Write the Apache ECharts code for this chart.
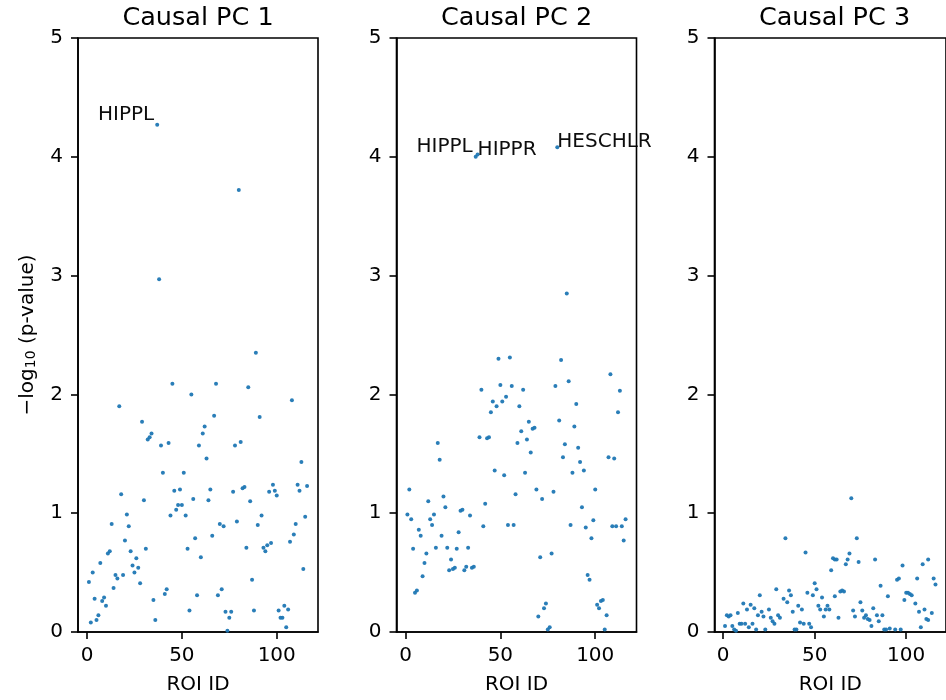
<!DOCTYPE html>
<html>
<head>
<meta charset="utf-8">
<script src="https://cdn.jsdelivr.net/npm/echarts@6/dist/echarts.min.js"></script>
<style>
  html, body { margin: 0; padding: 0; background: #fff; overflow: hidden; }
  #chart { width: 946px; height: 700px; }
</style>
</head>
<body>
<div id="chart"></div>
<script>
// ROI ids (AAL atlas, 1..116) used by the first two panels
const roiIds = [
  1,2,3,4,5,6,7,8,9,10,11,12,13,14,15,16,17,18,19,20,
  21,22,23,24,25,26,27,28,29,30,31,32,33,34,35,36,37,38,39,40,
  41,42,43,44,45,46,47,48,49,50,51,52,53,54,55,56,57,58,59,60,
  61,62,63,64,65,66,67,68,69,70,71,72,73,74,75,76,77,78,79,80,
  81,82,83,84,85,86,87,88,89,90,91,92,93,94,95,96,97,98,99,100,
  101,102,103,104,105,106,107,108,109,110,111,112,113,114,115,116
];

// -log10(p) per ROI, causal PC 1
const pc1Values = [
  0.42,0.08,0.50,0.28,0.10,0.14,0.58,0.26,0.29,0.22,
  0.66,0.68,0.91,0.37,0.48,0.45,1.90,1.16,0.48,0.77,
  0.99,0.89,0.68,0.56,0.50,0.62,0.54,0.41,1.77,1.11,
  0.70,1.62,1.64,1.67,0.27,0.10,4.27,2.97,1.57,1.34,
  0.32,0.36,1.59,0.98,2.09,1.19,1.03,1.07,1.20,1.07,
  1.34,0.98,0.70,0.18,2.00,1.12,0.79,0.31,1.57,0.63,
  1.67,1.73,1.46,1.11,1.20,0.81,1.82,2.09,0.31,0.91,
  0.36,0.89,0.17,0.01,0.12,0.17,1.18,1.57,0.93,3.72,
  1.60,1.21,1.22,0.71,2.06,1.10,0.44,0.18,2.35,0.90,
  1.81,0.98,0.71,0.68,0.73,1.18,0.75,1.24,1.19,1.15,
  0.18,0.12,0.12,0.22,0.04,0.19,0.76,1.95,0.82,0.91,
  1.24,1.19,1.43,0.53,0.97,1.23
];

// -log10(p) per ROI, causal PC 2
const pc2Values = [
  0.99,1.20,0.95,0.70,0.33,0.35,0.86,0.81,0.47,0.58,
  0.66,1.10,0.95,0.90,0.99,0.71,1.59,1.45,0.81,1.14,
  1.05,0.71,0.52,0.61,0.53,0.54,0.70,0.84,1.02,1.03,
  0.52,0.55,0.71,0.98,0.54,0.55,4.00,4.02,1.64,2.04,
  0.89,1.08,1.63,1.64,1.85,1.94,1.36,1.90,2.30,2.08,
  1.94,1.32,1.98,0.90,2.31,2.07,0.90,1.16,1.59,1.90,
  1.69,2.04,1.34,1.62,1.77,1.51,1.71,1.72,1.20,0.13,
  0.63,1.12,0.20,0.24,0.02,0.04,0.66,1.18,2.07,4.08,
  1.78,2.29,1.47,1.58,2.85,2.11,0.90,1.34,1.73,1.92,
  1.55,1.43,1.05,1.36,0.88,0.48,0.44,0.79,0.94,1.20,
  0.23,0.20,0.26,0.27,0.02,0.14,1.47,2.17,0.89,1.46,
  0.89,1.85,2.03,0.89,0.77,0.95
];

// causal PC 3: ROI ids and -log10(p)
const pc3Rois = [
  1,2,3,4,5,6,7,8,9,10,11,12,13,14,15,16,17,18,19,20,
  21,22,23,25,26,27,28,29,30,31,33,34,35,36,37,38,39,40,41,42,
  43,44,45,46,47,48,49,50,51,52,53,54,55,56,57,58,59,60,61,61,
  62,63,64,65,66,67,68,69,70,71,72,73,74,75,76,77,78,79,80,81,
  82,83,84,85,86,87,88,89,90,91,94,95,96,97,98,99,100,101,102,103,
  105,106,107,108,109,110,111,112,112,114,115,116
];
const pc3Values = [
  0.05,0.14,0.13,0.14,0.05,0.02,0.01,0.16,0.07,0.07,0.24,0.07,0.19,0.04,0.23,0.07,0.20,0.02,0.14,0.31,
  0.17,0.13,0.02,0.19,0.12,0.09,0.07,0.36,0.14,0.12,0.28,0.79,0.25,0.35,0.31,0.17,0.02,0.02,0.22,0.08,
  0.19,0.07,0.67,0.33,0.07,0.04,0.31,0.41,0.36,0.22,0.19,0.29,0.13,0.19,0.22,0.19,0.52,0.62,0.30,0.61,
  0.61,0.12,0.34,0.35,0.34,0.57,0.61,0.66,1.125,0.18,0.13,0.79,0.59,0.25,0.18,0.12,0.14,0.11,0.10,0.05,
  0.20,0.61,0.14,0.09,0.39,0.14,0.02,0.02,0.30,0.03,0.02,0.44,0.45,0.02,0.56,0.27,0.33,0.33,0.32,0.31,
  0.24,0.45,0.17,0.04,0.57,0.19,0.11,0.10,0.61,0.16,0.45,0.40
];

// annotated regions per panel
const pc1LabelRois = [37];
const pc1LabelNames = ['HIPPL'];
const pc2LabelRois = [37, 38, 80];
const pc2LabelNames = ['HIPPL', 'HIPPR', 'HESCHLR'];

const panelTitles = ['Causal PC 1', 'Causal PC 2', 'Causal PC 3'];
const xTicks = [0, 50, 100];
const yTickStep = 1;

const FONT = 'DejaVu Sans';
const INK = '#000000';
const DOT = '#1f77b4';
const SPINE = 1.6;
const gridLefts = [78, 396.5, 714.5];
const GRID_W = 240, GRID_TOP = 38, GRID_H = 594;

// label placement: HIPPL sits up-left of its point, others start at the point
function labelFor(name) {
  const r = 2;
  if (name === 'HIPPL') {
    return { show: true, formatter: name, position: [r, r], align: 'right',
             verticalAlign: 'bottom', offset: [-3, 0],
             fontFamily: FONT, fontSize: 20, color: INK };
  }
  return { show: true, formatter: name, position: [r, r], align: 'left',
           verticalAlign: 'bottom', offset: [0, 5],
           fontFamily: FONT, fontSize: 20, color: INK };
}

function buildData(rois, vals, labelRois, labelNames) {
  return rois.map((roi, i) => {
    const k = labelRois.indexOf(roi);
    if (k >= 0) {
      return { value: [roi, vals[i]], label: labelFor(labelNames[k]) };
    }
    return [roi, vals[i]];
  });
}

const seriesData = [
  buildData(roiIds, pc1Values, pc1LabelRois, pc1LabelNames),
  buildData(roiIds, pc2Values, pc2LabelRois, pc2LabelNames),
  buildData(pc3Rois, pc3Values, [], [])
];

const grids = [], xAxes = [], yAxes = [], series = [], titles = [];
for (let p = 0; p < 3; p++) {
  grids.push({ left: gridLefts[p], top: GRID_TOP, width: GRID_W, height: GRID_H,
               show: true, borderColor: INK, borderWidth: SPINE, containLabel: false });
  titles.push({ text: panelTitles[p], left: gridLefts[p] + GRID_W / 2, top: 5, padding: 0,
                textAlign: 'center',
                textStyle: { fontFamily: FONT, fontSize: 25.5, fontWeight: 'normal', color: INK } });
  xAxes.push({
    gridIndex: p, type: 'value', min: -4.75, max: 121.75,
    name: 'ROI ID', nameLocation: 'middle', nameGap: 43,
    nameTextStyle: { fontFamily: FONT, fontSize: 20, color: INK },
    axisLine: { show: true, onZero: false, lineStyle: { color: INK, width: SPINE } },
    axisTick: { show: true, length: 7, customValues: xTicks, lineStyle: { color: INK, width: SPINE } },
    axisLabel: { show: true, margin: 14, customValues: xTicks,
                 fontFamily: FONT, fontSize: 20, color: INK },
    splitLine: { show: false }
  });
  yAxes.push({
    gridIndex: p, type: 'value', min: 0, max: 5, interval: yTickStep,
    name: p === 0 ? '{t|\u2212log}{s|10}{t| (p-value)}' : '',
    nameLocation: 'middle', nameGap: 40,
    nameTextStyle: { fontFamily: FONT, fontSize: 20, color: INK,
      rich: {
        t: { fontFamily: FONT, fontSize: 20, color: INK, verticalAlign: 'bottom', lineHeight: 26 },
        s: { fontFamily: FONT, fontSize: 14, color: INK, verticalAlign: 'bottom', lineHeight: 20 }
      } },
    axisLine: { show: true, onZero: false, lineStyle: { color: INK, width: SPINE } },
    axisTick: { show: true, length: 7, lineStyle: { color: INK, width: SPINE } },
    axisLabel: { show: true, margin: 15, fontFamily: FONT, fontSize: 20, color: INK },
    splitLine: { show: false }
  });
  series.push({
    type: 'scatter', xAxisIndex: p, yAxisIndex: p,
    symbol: 'circle', symbolSize: 4,
    itemStyle: { color: DOT, opacity: 0.95 },
    emphasis: { disabled: true },
    data: seriesData[p],
    clip: false
  });
}

const chart = echarts.init(document.getElementById('chart'), null, { renderer: 'canvas' });
chart.setOption({
  animation: false,
  backgroundColor: '#ffffff',
  textStyle: { fontFamily: FONT },
  title: titles,
  grid: grids,
  xAxis: xAxes,
  yAxis: yAxes,
  series: series
});
</script>
</body>
</html>
